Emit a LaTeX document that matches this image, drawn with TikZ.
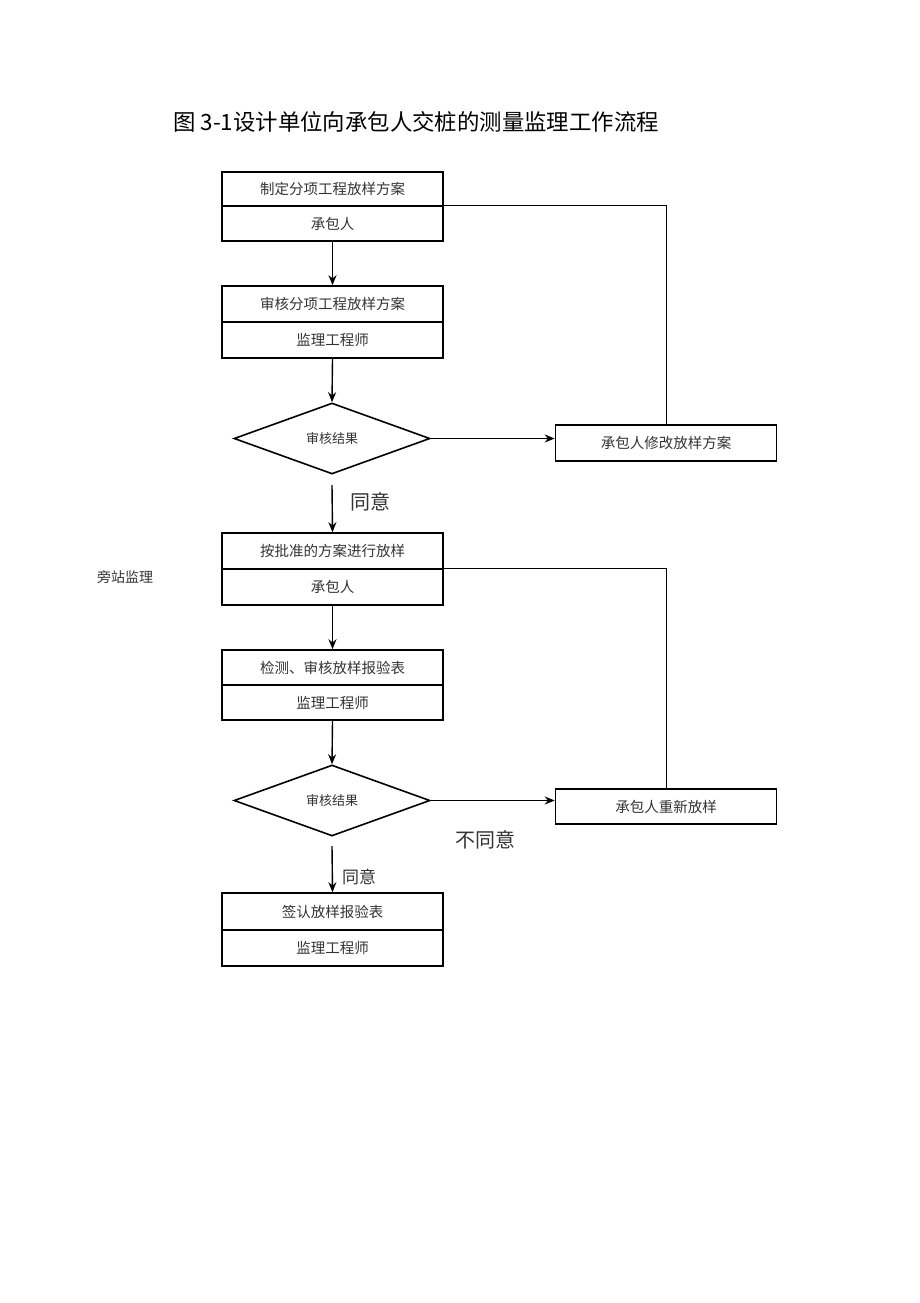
\documentclass[tikz,border=0pt]{standalone}
\usepackage{fontspec}
\newfontfamily\cjk{Noto Sans CJK SC}
\usetikzlibrary{shapes.geometric,arrows.meta}
\begin{document}
\begin{tikzpicture}[x=1pt,y=-1pt,
  half/.style={draw, line width=1.6pt, minimum width=221pt, inner sep=0pt, font=\cjk\fontsize{14.5}{14.5}\selectfont, text=black!80},
  dia/.style={draw, line width=1.6pt, diamond, aspect=2.76, minimum width=196pt, minimum height=71pt, inner sep=0pt, font=\cjk\fontsize{13}{13}\selectfont, text=black!80},
  arr/.style={line width=1.4pt, -{Stealth[length=10pt,width=8pt]}},
  fb/.style={line width=1pt},
  lbl/.style={font=\cjk\fontsize{20}{20}\selectfont, text=black!80, inner sep=0pt}
]
\useasboundingbox (0,0) rectangle (920,1303);
\node[anchor=west, font=\cjk\fontsize{22.4}{22.4}\selectfont, inner sep=0pt] (title) at (173,122) {图 3-1设计单位向承包人交桩的测量监理工作流程};

% box 1
\node[half, minimum height=34pt] (b1t) at (332.5,189) {制定分项工程放样方案};
\node[half, minimum height=35pt] (b1b) at (332.5,223.5) {承包人};
% box 2
\node[half, minimum height=36pt] (b2t) at (332.5,304) {审核分项工程放样方案};
\node[half, minimum height=36pt] (b2b) at (332.5,340) {监理工程师};
% diamond 1
\node[dia] (d1) at (332,438.5) {审核结果};
% right box 1
\node[half, minimum height=36pt] (r1) at (666,443) {承包人修改放样方案};
% box 3
\node[half, minimum height=36pt] (b3t) at (332.5,551) {按批准的方案进行放样};
\node[half, minimum height=36pt] (b3b) at (332.5,587) {承包人};
\node[font=\cjk\fontsize{14}{14}\selectfont, text=black!80, inner sep=0pt] (side) at (125,577) {旁站监理};
% box 4
\node[half, minimum height=35pt] (b4t) at (332.5,667.5) {检测、审核放样报验表};
\node[half, minimum height=35pt] (b4b) at (332.5,702.5) {监理工程师};
% diamond 2
\node[dia] (d2) at (332,800.5) {审核结果};
% right box 2
\node[half, minimum height=35pt] (r2) at (666,806.5) {承包人重新放样};
% box 5
\node[half, minimum height=37pt] (b5t) at (332.5,911.5) {签认放样报验表};
\node[half, minimum height=36pt] (b5b) at (332.5,948) {监理工程师};

% connectors
\draw[arr] (b1b.south) -- (b2t.north);
\draw[arr] (b2b.south) -- (d1.north);
\draw[arr] (d1.east) -- (d1.east -| r1.west);
\draw[fb] (b1b.north east) -| (r1.north);
\coordinate (c1) at (332,485);
\draw[arr] (c1) -- (b3t.north);
\node[lbl, anchor=west] (ok1) at (350,502) {同意};
\draw[arr] (b3b.south) -- (b4t.north);
\draw[fb] (b3b.north east) -| (r2.north);
\draw[arr] (b4b.south) -- (d2.north);
\draw[arr] (d2.east) -- (d2.east -| r2.west);
\node[lbl, anchor=west] (no2) at (455,840) {不同意};
\coordinate (c2) at (332,846);
\draw[arr] (c2) -- (b5t.north);
\node[font=\cjk\fontsize{17}{17}\selectfont, text=black!80, inner sep=0pt, anchor=west] (ok2) at (342,877) {同意};
\end{tikzpicture}
\end{document}
